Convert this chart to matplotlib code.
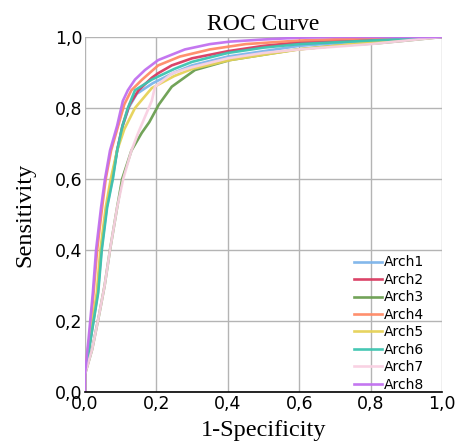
import matplotlib
matplotlib.use("Agg")
import matplotlib.pyplot as plt
from matplotlib.ticker import FuncFormatter

names = ["Arch1", "Arch2", "Arch3", "Arch4", "Arch5", "Arch6", "Arch7", "Arch8"]
colors = ["#7db4ea", "#d93a60", "#6a9e50", "#ff8a66", "#e6d257", "#3cc4b0", "#f9d0e2", "#c170f0"]

fpr1 = [0, 0, 0.016, 0.036, 0.046, 0.061, 0.077, 0.09, 0.106, 0.122, 0.145, 0.19, 0.25, 0.3, 0.4, 0.5, 0.6, 0.8, 1]
tpr1 = [0, 0.05, 0.15, 0.28, 0.40, 0.52, 0.60, 0.68, 0.75, 0.80, 0.84, 0.87, 0.90, 0.92, 0.945, 0.96, 0.975, 0.99, 1]
fpr2 = [0, 0, 0.015, 0.035, 0.045, 0.06, 0.075, 0.09, 0.105, 0.125, 0.15, 0.187, 0.205, 0.243, 0.3, 0.4, 0.5, 0.6, 0.8, 1]
tpr2 = [0, 0.05, 0.15, 0.28, 0.40, 0.52, 0.60, 0.68, 0.75, 0.81, 0.85, 0.885, 0.898, 0.92, 0.94, 0.96, 0.975, 0.985, 0.995, 1]
fpr3 = [0, 0, 0.02, 0.04, 0.055, 0.07, 0.09, 0.104, 0.13, 0.159, 0.18, 0.207, 0.243, 0.308, 0.406, 0.5, 0.594, 0.7, 0.826, 0.9, 1]
tpr3 = [0, 0.05, 0.12, 0.22, 0.30, 0.40, 0.52, 0.60, 0.68, 0.73, 0.76, 0.81, 0.86, 0.907, 0.935, 0.95, 0.965, 0.975, 0.983, 0.99, 1]
fpr4 = [0, 0, 0.012, 0.024, 0.034, 0.048, 0.058, 0.073, 0.093, 0.11, 0.13, 0.16, 0.205, 0.266, 0.35, 0.45, 0.6, 0.8, 1]
tpr4 = [0, 0.06, 0.15, 0.28, 0.40, 0.52, 0.60, 0.68, 0.75, 0.81, 0.85, 0.88, 0.92, 0.945, 0.965, 0.98, 0.99, 0.997, 1]
fpr5 = [0, 0, 0.014, 0.033, 0.043, 0.058, 0.072, 0.09, 0.11, 0.14, 0.187, 0.25, 0.3, 0.406, 0.5, 0.6, 0.8, 1]
tpr5 = [0, 0.05, 0.15, 0.28, 0.40, 0.52, 0.60, 0.68, 0.74, 0.80, 0.856, 0.89, 0.91, 0.935, 0.95, 0.965, 0.985, 1]
fpr6 = [0, 0, 0.016, 0.037, 0.047, 0.062, 0.078, 0.09, 0.105, 0.12, 0.14, 0.187, 0.25, 0.3, 0.4, 0.5, 0.6, 0.8, 1]
tpr6 = [0, 0.05, 0.15, 0.28, 0.40, 0.52, 0.60, 0.68, 0.75, 0.80, 0.85, 0.88, 0.91, 0.93, 0.955, 0.97, 0.98, 0.99, 1]
fpr7 = [0, 0, 0.02, 0.04, 0.055, 0.07, 0.09, 0.107, 0.13, 0.149, 0.17, 0.187, 0.196, 0.245, 0.3, 0.4, 0.5, 0.6, 0.8, 1]
tpr7 = [0, 0.05, 0.12, 0.22, 0.30, 0.40, 0.52, 0.60, 0.68, 0.73, 0.78, 0.82, 0.86, 0.898, 0.915, 0.94, 0.955, 0.965, 0.98, 1]
fpr8 = [0, 0, 0.01, 0.022, 0.031, 0.045, 0.056, 0.07, 0.09, 0.106, 0.12, 0.14, 0.168, 0.205, 0.25, 0.28, 0.35, 0.406, 0.5, 0.6, 0.7, 1]
tpr8 = [0, 0.05, 0.15, 0.28, 0.40, 0.52, 0.60, 0.68, 0.75, 0.82, 0.85, 0.88, 0.907, 0.935, 0.953, 0.965, 0.98, 0.987, 0.993, 0.998, 1.0, 1]

fprs = [fpr1, fpr2, fpr3, fpr4, fpr5, fpr6, fpr7, fpr8]
tprs = [tpr1, tpr2, tpr3, tpr4, tpr5, tpr6, tpr7, tpr8]
ticks = [0.0, 0.2, 0.4, 0.6, 0.8, 1.0]

fig = plt.figure(figsize=(4.55, 4.46), dpi=100)
ax = fig.add_axes([85/455, 1 - 392/446, 357/455, 355/446])

for f, t, c, n in zip(fprs, tprs, colors, names):
    ax.plot(f, t, color=c, lw=1.9, label=n, alpha=0.95, solid_joinstyle="round")

ax.set_xlim(0, 1)
ax.set_ylim(0, 1)
ax.set_xticks(ticks)
ax.set_yticks(ticks)
fmt = FuncFormatter(lambda v, p: f"{v:.1f}".replace(".", ","))
ax.xaxis.set_major_formatter(fmt)
ax.yaxis.set_major_formatter(fmt)
ax.tick_params(length=0, labelsize=12.5, pad=2)
ax.grid(True, color="#b4b4b4", lw=1)
ax.set_axisbelow(True)
for s in ["top", "right", "left"]:
    ax.spines[s].set_visible(False)
ax.spines["bottom"].set_color("black")
ax.spines["bottom"].set_linewidth(1.2)
ax.axvline(0, ymin=0, ymax=0.75, color="#888888", lw=1.2, zorder=0.5)

ax.set_title("ROC Curve", family="Liberation Serif", fontsize=17, pad=5)
ax.set_xlabel("1-Specificity", family="Liberation Serif", fontsize=17.5, labelpad=5)
ax.set_ylabel("Sensitivity", family="Liberation Serif", fontsize=17.5, labelpad=14)

leg = ax.legend(loc="lower right", frameon=False, fontsize=10, handlelength=2.0,
                handletextpad=0.15, labelspacing=0.25, borderaxespad=0.0,
                bbox_to_anchor=(0.965, -0.015))

fig.savefig("out.png", dpi=100)
